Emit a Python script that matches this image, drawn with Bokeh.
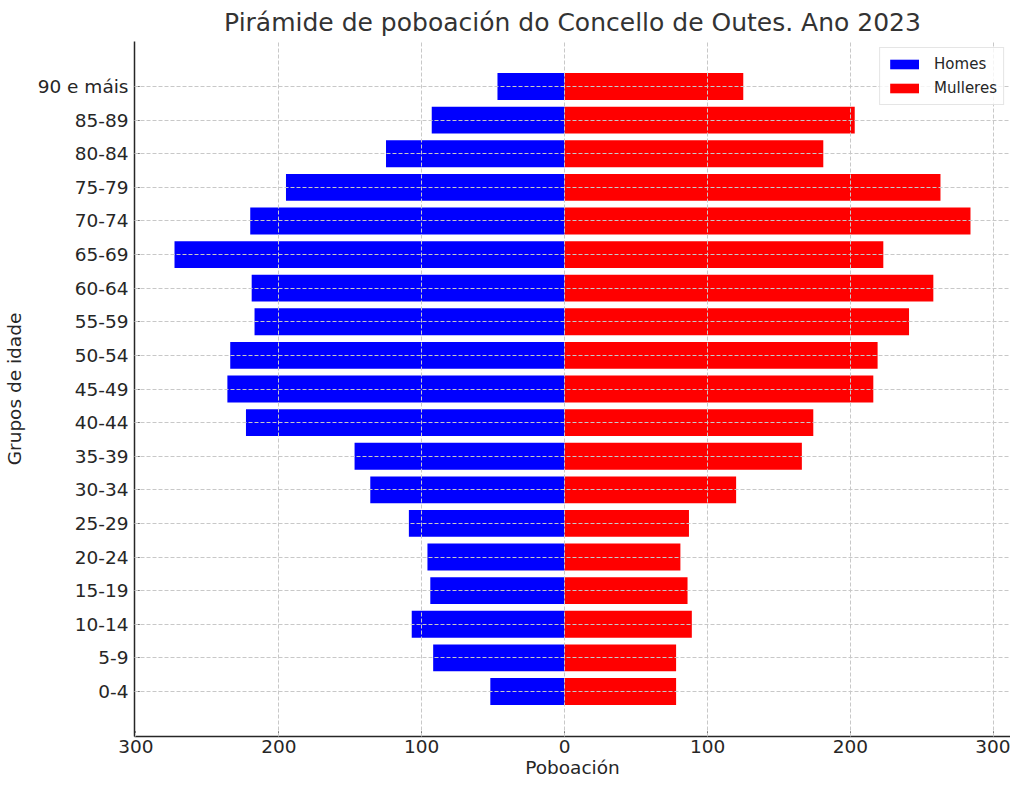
from bokeh.plotting import figure
from bokeh.models import FactorRange, Range1d, FixedTicker, Legend, LegendItem
from bokeh.embed import file_html
from bokeh.resources import INLINE

groups = ["0-4", "5-9", "10-14", "15-19", "20-24", "25-29", "30-34", "35-39",
          "40-44", "45-49", "50-54", "55-59", "60-64", "65-69", "70-74", "75-79",
          "80-84", "85-89", "90 e máis"]
homes = [52, 92, 107, 94, 96, 109, 136, 147, 223, 236, 234, 217, 219, 273, 220, 195, 125, 93, 47]
mulleres = [78, 78, 89, 86, 81, 87, 120, 166, 174, 216, 219, 241, 258, 223, 284, 263, 181, 203, 125]
x_ticks = [-300, -200, -100, 0, 100, 200, 300]

FONT = "DejaVu Sans"
TXT = "#262626"

p = figure(width=1010, height=780, output_backend="svg", toolbar_location=None,
           y_range=FactorRange(factors=groups, range_padding=0.84, range_padding_units="absolute"),
           x_range=Range1d(-301, 312),
           min_border_left=132, min_border_right=0, min_border_top=34, min_border_bottom=40)

neg_homes = [-v for v in homes]
zeros = [0] * len(groups)
rh = p.hbar(y=groups, left=neg_homes, right=zeros, height=0.8, fill_color="#0000ff", line_color=None)
rm = p.hbar(y=groups, left=zeros, right=mulleres, height=0.8, fill_color="#ff0000", line_color=None)

p.title.text = "Pirámide de poboación do Concello de Outes. Ano 2023"
p.title.align = "center"
p.title.text_font = FONT
p.title.text_font_size = "25px"
p.title.text_font_style = "normal"
p.title.text_color = "#333333"

p.outline_line_color = None
p.background_fill_color = "white"
p.border_fill_color = "white"

p.xaxis.ticker = FixedTicker(ticks=x_ticks)
p.xaxis.major_label_overrides = {t: str(abs(t)) for t in x_ticks}
p.xaxis.axis_label = "Poboación"
p.yaxis.axis_label = "Grupos de idade"

for ax in (p.xaxis, p.yaxis):
    ax.axis_label_text_font = FONT
    ax.axis_label_text_font_size = "18.5px"
    ax.axis_label_text_font_style = "normal"
    ax.axis_label_text_color = TXT
    ax.major_label_text_font = FONT
    ax.major_label_text_font_size = "18.5px"
    ax.major_label_text_color = TXT
    ax.axis_line_color = TXT
    ax.axis_line_width = 1.5
    ax.major_tick_line_color = TXT
    ax.major_tick_in = 5
    ax.major_tick_out = 0
    ax.minor_tick_line_color = None
p.xaxis.major_label_standoff = 3
p.xaxis.axis_label_standoff = 1
p.yaxis.major_label_standoff = 6
p.yaxis.axis_label_standoff = 10

for g in (p.xgrid, p.ygrid):
    g.grid_line_color = "#c8c8c8"
    g.grid_line_dash = "4 2"
    g.grid_line_width = 1
    g.level = "guide"
p.xgrid.ticker = FixedTicker(ticks=x_ticks)

legend = Legend(items=[LegendItem(label="Homes", renderers=[rh]),
                       LegendItem(label="Mulleres", renderers=[rm])],
                location="top_right", margin=6, padding=6, spacing=4,
                label_text_font=FONT, label_text_font_size="15px", label_text_color=TXT,
                glyph_width=36, glyph_height=12, label_standoff=12, label_height=20,
                border_line_color="#cccccc", border_line_width=1,
                background_fill_color="white", background_fill_alpha=0.8)
p.add_layout(legend, "center")

open("out.html", "w").write(file_html(p, INLINE))
